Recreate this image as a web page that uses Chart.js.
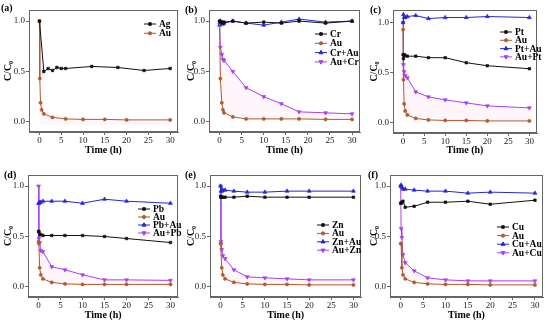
<!DOCTYPE html>
<html>
<head>
<meta charset="utf-8">
<script src="https://cdn.jsdelivr.net/npm/chart.js@4/dist/chart.umd.min.js"></script>
<style>
  html, body { margin: 0; padding: 0; background: #fff; }
  #wrap { position: relative; width: 550px; height: 323px; }
  canvas { position: absolute; }
</style>
</head>
<body>
<div id="wrap">
  <canvas id="pa" width="183" height="160" style="left:0;top:0"></canvas>
  <canvas id="pb" width="183" height="160" style="left:183px;top:0"></canvas>
  <canvas id="pc" width="184" height="160" style="left:366px;top:0"></canvas>
  <canvas id="pd" width="183" height="163" style="left:0;top:160px"></canvas>
  <canvas id="pe" width="183" height="163" style="left:183px;top:160px"></canvas>
  <canvas id="pf" width="184" height="163" style="left:366px;top:160px"></canvas>
</div>
<script>
// time points (h)
const timeAg = [0, 1, 2, 3, 4, 5, 6, 12, 18, 24, 30]
const timeStd = [0, 0.08, 0.25, 0.5, 1, 3, 6, 10, 15, 20, 30]
const timeB = [0, 0.17, 0.5, 0.75, 1, 3, 6, 10, 14, 18, 24, 30]
const xTicks = [0, 5, 10, 15, 20, 25, 30]
const yTicks = [0, 0.5, 1.0]

// (a)
const ag = [1.0, 0.50, 0.53, 0.51, 0.54, 0.53, 0.53, 0.55, 0.54, 0.51, 0.53]
const auA = [1.0, 0.43, 0.19, 0.12, 0.08, 0.045, 0.03, 0.025, 0.025, 0.02, 0.02]
// (b)
const cr = [1.0, 0.99, 0.99, 0.98, 0.99, 1.0, 0.98, 0.99, 0.98, 1.0, 0.98, 1.0]
const auB = [1.0, 0.43, 0.19, 0.12, 0.09, 0.05, 0.03, 0.03, 0.03, 0.03, 0.025, 0.025]
const crAu = [0.96, 1.0, 0.98, 0.97, 0.98, 1.0, 0.98, 0.96, 0.99, 1.02, 0.99, 1.0]
const auCr = [0.97, 0.74, 0.67, 0.62, 0.61, 0.50, 0.34, 0.25, 0.18, 0.10, 0.09, 0.08]
// (c)
const pt = [0.68, 0.64, 0.68, 0.67, 0.665, 0.665, 0.65, 0.65, 0.60, 0.57, 0.54]
const auC = [0.93, 0.43, 0.19, 0.12, 0.08, 0.045, 0.03, 0.025, 0.025, 0.02, 0.02]
const ptAu = [1.0, 1.08, 1.05, 1.05, 1.06, 1.07, 1.04, 1.05, 1.05, 1.06, 1.05]
const auPt = [1.0, 0.58, 0.51, 0.47, 0.45, 0.31, 0.26, 0.23, 0.20, 0.17, 0.15]
// (d)
const pb = [0.55, 0.55, 0.52, 0.52, 0.51, 0.51, 0.51, 0.51, 0.50, 0.48, 0.44]
const auD = [0.45, 0.43, 0.19, 0.12, 0.08, 0.045, 0.03, 0.025, 0.025, 0.025, 0.025]
const pbAu = [0.83, 0.83, 0.84, 0.84, 0.85, 0.85, 0.85, 0.83, 0.87, 0.85, 0.83]
const auPb = [1.0, 0.48, 0.44, 0.36, 0.35, 0.20, 0.17, 0.12, 0.07, 0.07, 0.065]
// (e)
const zn = [0.90, 0.89, 0.89, 0.89, 0.89, 0.89, 0.90, 0.89, 0.89, 0.89, 0.89]
const auE = [0.43, 0.43, 0.19, 0.12, 0.08, 0.045, 0.03, 0.025, 0.025, 0.02, 0.02]
const znAu = [1.0, 0.95, 0.95, 0.96, 0.96, 0.95, 0.94, 0.94, 0.95, 0.95, 0.95]
const auZn = [1.0, 0.45, 0.37, 0.31, 0.28, 0.17, 0.10, 0.09, 0.08, 0.07, 0.07]
// (f)
const cu = [0.83, 0.83, 0.84, 0.85, 0.79, 0.80, 0.84, 0.84, 0.85, 0.82, 0.86]
const auF = [0.43, 0.43, 0.19, 0.12, 0.08, 0.045, 0.03, 0.025, 0.025, 0.02, 0.02]
const cuAu = [1.0, 1.01, 0.99, 0.97, 0.97, 0.96, 0.95, 0.95, 0.93, 0.94, 0.93]
const auCu = [1.0, 0.58, 0.49, 0.32, 0.24, 0.16, 0.09, 0.07, 0.06, 0.06, 0.06]

const FONT = "'Liberation Serif', 'DejaVu Serif', serif"
const C_BLACK = '#111111'
const C_AU = '#b4592c'
const C_BLUE = '#2626d6'
const C_PURPLE = '#a642f2'
const FRAME = '#666666'
const PINK = 'rgba(248, 190, 225, 0.14)'

const styles = {
  metal: { color: C_BLACK, pointStyle: 'rect', rotation: 0, r: 1.8 },
  au: { color: C_AU, pointStyle: 'circle', rotation: 0, r: 1.6 },
  mix: { color: C_BLUE, pointStyle: 'triangle', rotation: 0, r: 2.3 },
  aumix: { color: C_PURPLE, pointStyle: 'triangle', rotation: 180, r: 2.3 }
}

const series = (label, times, vals, kind, fill) => {
  const s = styles[kind]
  return {
    label: label,
    data: times.map((t, i) => ({ x: t, y: vals[i] })),
    borderColor: s.color,
    backgroundColor: PINK,
    pointBackgroundColor: s.color,
    fill: fill === undefined ? false : fill,
    borderWidth: 1,
    pointStyle: s.pointStyle,
    rotation: s.rotation,
    pointRadius: s.r,
    pointBorderWidth: 0.6,
    kind: kind
  }
}

// frame, panel letter and in-plot legend
const decor = {
  id: 'decor',
  afterDraw(chart, args, o) {
    const ctx = chart.ctx
    const a = chart.chartArea
    ctx.save()
    ctx.strokeStyle = FRAME
    ctx.lineWidth = 1
    ctx.strokeRect(Math.round(a.left) + 0.5, Math.round(a.top) + 0.5,
      Math.round(a.right - a.left) - 1, Math.round(a.bottom - a.top) - 1)

    ctx.fillStyle = '#000'
    ctx.font = 'bold 10px ' + FONT
    ctx.textBaseline = 'middle'
    ctx.textAlign = 'left'
    ctx.fillText(o.letter, o.lx, o.ly)

    ctx.font = 'bold 9.5px ' + FONT
    chart.data.datasets.forEach((ds, i) => {
      const y = o.y + i * o.dy
      const s = styles[ds.kind]
      ctx.strokeStyle = s.color
      ctx.fillStyle = s.color
      ctx.lineWidth = 1
      ctx.beginPath()
      ctx.moveTo(o.x, y)
      ctx.lineTo(o.x + 12, y)
      ctx.stroke()
      Chart.helpers.drawPoint(ctx, {
        pointStyle: s.pointStyle, rotation: s.rotation, radius: s.r, borderWidth: 0.6
      }, o.x + 6, y)
      ctx.fillStyle = '#000'
      ctx.fillText(ds.label, o.x + 15, y + 0.5)
    })
    ctx.restore()
  }
}

const makeChart = (id, datasets, box, yMax, decorOpts) => {
  const cv = document.getElementById(id)
  const W = cv.width, H = cv.height
  new Chart(cv, {
    type: 'line',
    data: { datasets: datasets },
    options: {
      responsive: false,
      animation: false,
      layout: { padding: { top: box.top, right: W - box.right, left: 0, bottom: 0 } },
      plugins: { legend: { display: false }, tooltip: { enabled: false }, filler: { propagate: false }, decor: decorOpts },
      scales: {
        x: {
          type: 'linear', min: -2.4, max: 31.8,
          afterBuildTicks: s => { s.ticks = xTicks.map(v => ({ value: v })) },
          afterFit: s => { s.height = H - box.bottom },
          grid: { drawOnChartArea: false, drawTicks: true, tickLength: 3, color: FRAME },
          border: { color: FRAME },
          ticks: { font: { family: FONT, size: 9 }, color: '#222', padding: 0, maxRotation: 0 },
          title: { display: true, text: 'Time (h)', font: { family: FONT, size: 10, weight: 'bold' },
            color: '#000', padding: { top: 0, bottom: box.xtPad } }
        },
        y: {
          type: 'linear', min: -0.1, max: yMax,
          afterBuildTicks: s => { s.ticks = yTicks.map(v => ({ value: v })) },
          afterFit: s => { s.width = box.left },
          grid: { drawOnChartArea: false, drawTicks: true, tickLength: 3, color: FRAME },
          border: { color: FRAME },
          ticks: { font: { family: FONT, size: 9 }, color: '#222', padding: 1,
            callback: v => v.toFixed(1) },
          title: { display: true, text: 'C/C\u2080', font: { family: FONT, size: 10, weight: 'bold' },
            color: '#000', padding: { top: 2, bottom: 2 } }
        }
      }
    },
    plugins: [decor]
  })
}

makeChart('pa', [
  series('Ag', timeAg, ag, 'metal'),
  series('Au', timeStd, auA, 'au', { value: -0.03 })
], { left: 29, right: 178, top: 10, bottom: 132, xtPad: 4 }, 1.11,
{ letter: '(a)', lx: 1, ly: 8, x: 144, y: 24, dy: 9.3 })

makeChart('pb', [
  series('Cr', timeB, cr, 'metal'),
  series('Au', timeB, auB, 'au'),
  series('Cr+Au', timeB, crAu, 'mix'),
  series('Au+Cr', timeB, auCr, 'aumix', 1)
], { left: 26, right: 177, top: 10, bottom: 132, xtPad: 4 }, 1.11,
{ letter: '(b)', lx: 2, ly: 10, x: 132, y: 34, dy: 9.3 })

makeChart('pc', [
  series('Pt', timeStd, pt, 'metal'),
  series('Au', timeStd, auC, 'au'),
  series('Pt+Au', timeStd, ptAu, 'mix'),
  series('Au+Pt', timeStd, auPt, 'aumix', 1)
], { left: 27, right: 171, top: 10, bottom: 133, xtPad: 4 }, 1.125,
{ letter: '(c)', lx: 4, ly: 10, x: 134, y: 32, dy: 8.3 })

makeChart('pd', [
  series('Pb', timeStd, pb, 'metal'),
  series('Au', timeStd, auD, 'au'),
  series('Pb+Au', timeStd, pbAu, 'mix'),
  series('Au+Pb', timeStd, auPb, 'aumix', 1)
], { left: 28, right: 182, top: 15, bottom: 137, xtPad: 2 }, 1.11,
{ letter: '(d)', lx: 4, ly: 15, x: 138, y: 49, dy: 8 })

makeChart('pe', [
  series('Zn', timeStd, zn, 'metal'),
  series('Au', timeStd, auE, 'au'),
  series('Zn+Au', timeStd, znAu, 'mix'),
  series('Au+Zn', timeStd, auZn, 'aumix', 1)
], { left: 27, right: 180, top: 15, bottom: 137, xtPad: 2 }, 1.11,
{ letter: '(e)', lx: 2, ly: 15, x: 134, y: 65, dy: 8.4 })

makeChart('pf', [
  series('Cu', timeStd, cu, 'metal'),
  series('Au', timeStd, auF, 'au'),
  series('Cu+Au', timeStd, cuAu, 'mix'),
  series('Au+Cu', timeStd, auCu, 'aumix', 1)
], { left: 24, right: 177, top: 15, bottom: 137, xtPad: 2 }, 1.11,
{ letter: '(f)', lx: 2, ly: 15, x: 131, y: 67, dy: 8.6 })
</script>
</body>
</html>
